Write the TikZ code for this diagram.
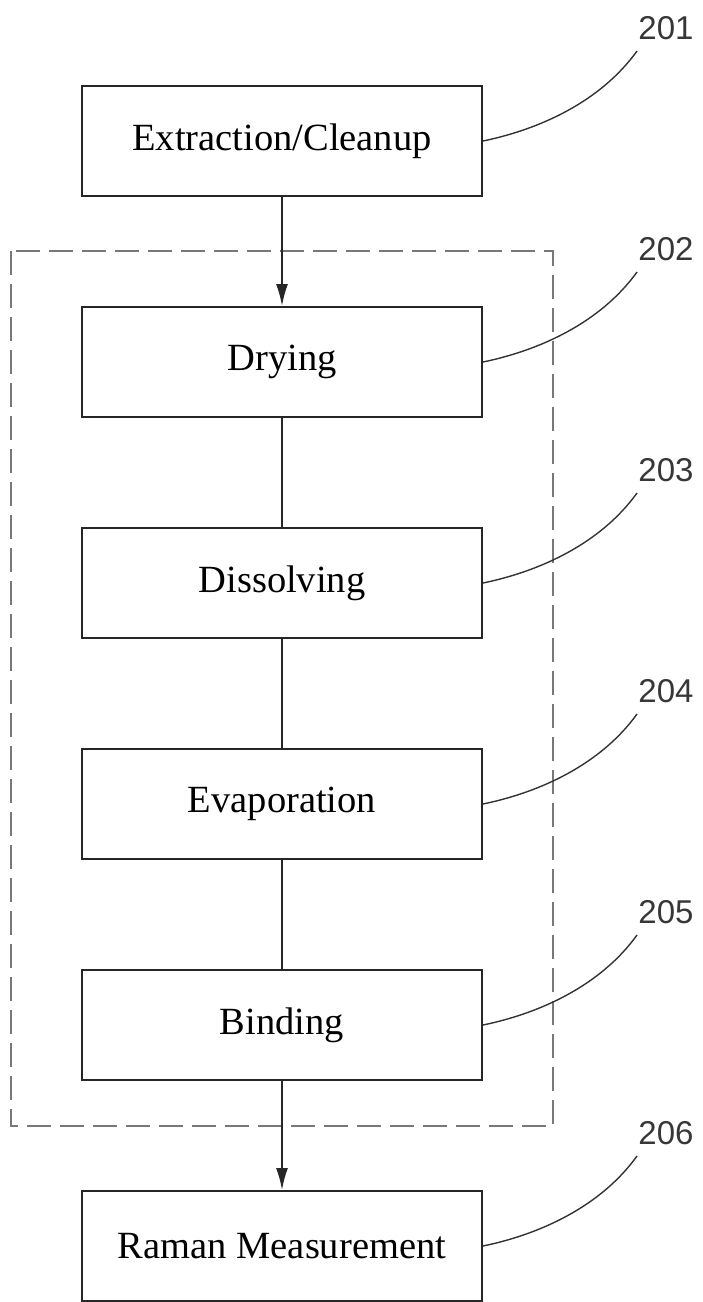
\documentclass[tikz,border=0pt]{standalone}
\usepackage{fontspec}
\setmainfont{Liberation Serif}
\newfontfamily\numfont{Liberation Sans}
\usetikzlibrary{arrows.meta}
\definecolor{FrameGrau}{RGB}{120,120,120}
\definecolor{NumGrau}{RGB}{55,55,55}

\tikzset{
  stepbox/.style={draw=black!85, line width=1pt, minimum width=200pt, minimum height=55pt,
                  inner sep=0pt, font=\fontsize{19.25}{22}\selectfont},
  refnum/.style={font=\numfont\fontsize{16.5}{18}\selectfont, text=NumGrau, inner sep=0pt},
  groupbox/.style={draw=FrameGrau, line width=0.9pt, dash pattern=on 12pt off 4.5pt},
  flow/.style={draw=black!85, line width=0.9pt, -{Latex[length=11pt, width=6pt]}},
  link/.style={draw=black!85, line width=0.9pt},
  leader/.style={draw=black!80, line width=0.7pt}
}

\begin{document}
\begin{tikzpicture}[x=0.5pt, y=-0.5pt]
    \useasboundingbox (0,0) rectangle (702,1302);
    % process steps
    \node[stepbox] (extract)  at (282, 141) {Extraction/Cleanup};
    \node[stepbox] (drying)   at (282, 362) {Drying};
    \node[stepbox] (dissolve) at (282, 583) {Dissolving};
    \node[stepbox] (evap)     at (282, 804) {Evaporation};
    \node[stepbox] (binding)  at (282,1025) {Binding};
    \node[stepbox] (raman)    at (282,1246) {Raman Measurement};
    % sample preparation group
    \draw[groupbox] (11,251) rectangle (553,1126);
    % flow
    \draw[flow] (extract) -- (drying);
    \draw[link] (drying)   -- (dissolve);
    \draw[link] (dissolve) -- (evap);
    \draw[link] (evap)     -- (binding);
    \draw[flow] (binding) -- (raman);
    % reference numerals
    \foreach \step/\num in {extract/201, drying/202, dissolve/203, evap/204, binding/205, raman/206} {
        \coordinate (end\num) at ([shift={(154,-90)}]\step.east);
        \node[refnum] (ref\num) at ([shift={(183,-113)}]\step.east) {\num};
        \draw[leader] (\step.east) .. controls +(58,-12) and +(-36,50) .. (end\num);
    }
\end{tikzpicture}
\end{document}
